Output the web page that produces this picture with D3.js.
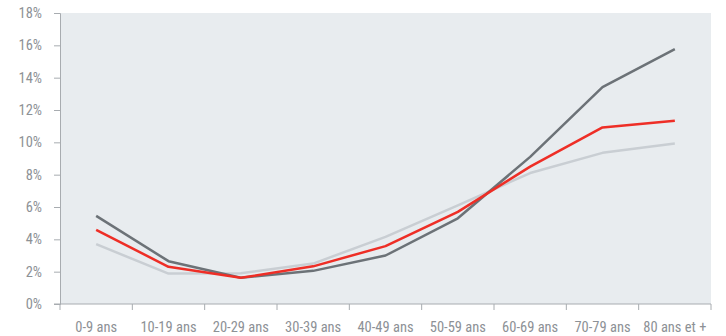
<!DOCTYPE html>
<html>
<head>
<meta charset="utf-8">
<script src="https://cdn.jsdelivr.net/npm/d3@7"></script>
<style>
  html, body { margin: 0; padding: 0; background: #ffffff; }
  svg { display: block; }
  text { font-family: "Liberation Sans Narrow", "Roboto Condensed", "Liberation Sans", sans-serif; }
</style>
</head>
<body>
<svg id="chart" width="726" height="336"></svg>
<script>
// Age groups along the x axis
const categories = ["0-9 ans", "10-19 ans", "20-29 ans", "30-39 ans", "40-49 ans",
                    "50-59 ans", "60-69 ans", "70-79 ans", "80 ans et +"];

// Share of each age group (%), three series
const seriesDark  = [5.45, 2.65, 1.62, 2.05, 3.0, 5.3, 9.1, 13.42, 15.77];
const seriesRed   = [4.58, 2.3, 1.62, 2.33, 3.58, 5.7, 8.5, 10.92, 11.33];
const seriesLight = [3.7, 1.88, 1.9, 2.5, 4.15, 6.1, 8.1, 9.35, 9.93];

const yTicks = [0, 2, 4, 6, 8, 10, 12, 14, 16, 18];

const series = [
  { values: seriesLight, color: "#c9ced3" },
  { values: seriesDark,  color: "#6c7277" },
  { values: seriesRed,   color: "#ee2e26" }
];

const svg = d3.select("#chart");
const margin = { left: 60, right: 15, top: 13, bottom: 32 };
const W = 726, H = 336;

const x = d3.scaleBand().domain(categories).range([margin.left, W - margin.right]);
const y = d3.scaleLinear().domain([0, 18]).range([H - margin.bottom, margin.top]);

// plot background
svg.append("rect")
  .attr("x", margin.left).attr("y", margin.top)
  .attr("width", W - margin.right - margin.left)
  .attr("height", y(0) - margin.top)
  .attr("fill", "#e8ecef");

const axisColor = "#a8acb0";
const textColor = "#8d9196";
const fontSize = "14.5px";

// y axis
const yAxis = svg.append("g")
  .attr("transform", `translate(${margin.left},0)`)
  .call(d3.axisLeft(y).tickValues(yTicks).tickFormat(d => d + "%").tickSize(6).tickPadding(12));
yAxis.select(".domain").attr("stroke", axisColor);
yAxis.selectAll(".tick line").attr("stroke", axisColor);
yAxis.selectAll(".tick text").attr("fill", textColor).style("font-size", fontSize);

// x axis: ticks on band boundaries, labels at band centers
const xAxisG = svg.append("g").attr("transform", `translate(0,${y(0)})`);
xAxisG.append("line")
  .attr("x1", margin.left - 6).attr("x2", W - margin.right)
  .attr("stroke", axisColor);
const bounds = categories.map(c => x(c)).concat([x(categories[categories.length - 1]) + x.bandwidth()]);
xAxisG.selectAll("line.tk").data(bounds).join("line")
  .attr("class", "tk")
  .attr("x1", d => d).attr("x2", d => d)
  .attr("y1", 0).attr("y2", 6)
  .attr("stroke", axisColor);
xAxisG.selectAll("text").data(categories).join("text")
  .attr("x", d => x(d) + x.bandwidth() / 2)
  .attr("y", 27.5)
  .attr("text-anchor", "middle")
  .attr("fill", textColor)
  .style("font-size", fontSize)
  .text(d => d);

// lines
const line = d3.line()
  .x((d, i) => x(categories[i]) + x.bandwidth() / 2)
  .y(d => y(d));

svg.selectAll("path.series").data(series).join("path")
  .attr("class", "series")
  .attr("d", d => line(d.values))
  .attr("fill", "none")
  .attr("stroke", d => d.color)
  .attr("stroke-width", 2.5)
  .attr("stroke-linejoin", "round");
</script>
</body>
</html>
